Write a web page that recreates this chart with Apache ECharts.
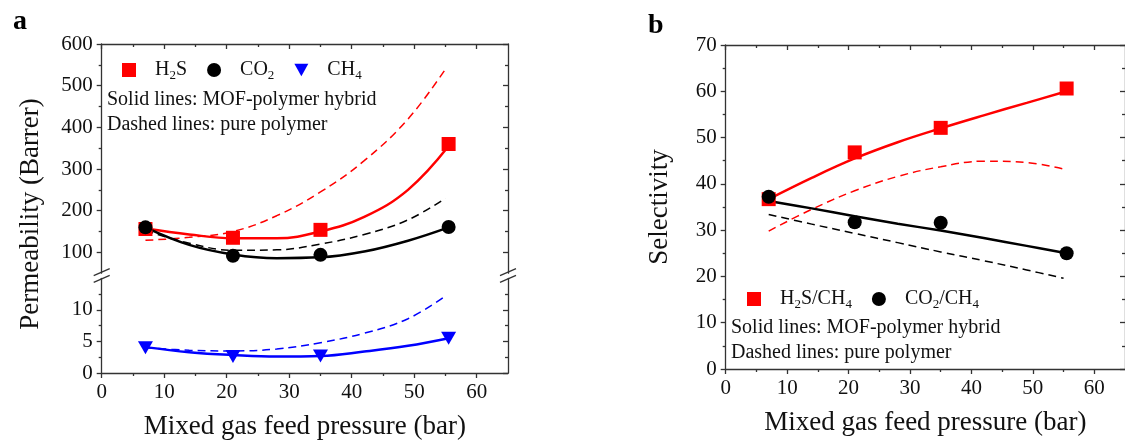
<!DOCTYPE html>
<html>
<head>
<meta charset="utf-8">
<script src="https://cdn.jsdelivr.net/npm/echarts@6/dist/echarts.min.js"></script>
<style>
html, body { margin: 0; padding: 0; background: #fff; }
#chart { width: 1125px; height: 441px; }
</style>
</head>
<body>
<div id="chart"></div>
<script>
// feed pressure of the measured points (bar)
var pressure = [7, 21, 35, 55.5];

// panel a: measured permeability (Barrer), MOF-polymer hybrid
var permH2S = [156, 135, 154, 360];
var permCO2 = [160, 92, 94, 161];
var permCH4 = [4.0, 2.6, 2.7, 5.5];

// fitted curves
var fitX = [7, 14, 21, 28, 35, 42, 49, 55.5];
var fitXDash = [7, 14, 21, 28, 35, 42, 49, 55];
var fitH2SHybrid = [157, 143, 134, 134, 150, 185, 250, 355];
var fitH2SPolymer = [129, 136, 150, 188, 245, 320, 420, 540];
var fitCO2Hybrid = [160, 118, 95, 86, 88, 102, 128, 160];
var fitCO2Polymer = [152, 122, 105, 106, 120, 143, 178, 230];
var fitCH4Hybrid = [4.1, 3.3, 2.85, 2.6, 2.7, 3.4, 4.3, 5.5];
var fitCH4Polymer = [4.0, 3.6, 3.5, 3.8, 4.8, 6.3, 8.6, 12.2];

// panel b: selectivity
var selH2S = [36.7, 46.8, 52.1, 60.6];
var selCO2 = [37.2, 31.7, 31.6, 25.0];
var fitSelH2SHybrid = [36.7, 41.3, 45.5, 49.0, 52.0, 54.8, 57.5, 60.0];
var fitSelH2SPolymer = [29.8, 34.5, 38.5, 41.6, 43.7, 44.9, 44.6, 43.2];
var fitSelCO2Hybrid = [36.3, 34.7, 33.0, 31.4, 29.9, 28.3, 26.6, 25.0];
var fitSelCO2Polymer = [33.4, 31.3, 29.3, 27.3, 25.3, 23.4, 21.4, 19.6];

// ticks
var xTicks = [0, 10, 20, 30, 40, 50, 60];
var xMinor = [5, 15, 25, 35, 45, 55];
var permTicksHigh = [100, 200, 300, 400, 500, 600];
var permMinorHigh = [150, 250, 350, 450, 550];
var permTicksLow = [0, 5, 10];
var permMinorLow = [2.5, 7.5, 12.5];
var selTicks = [0, 10, 20, 30, 40, 50, 60, 70];
var selMinor = [5, 15, 25, 35, 45, 55, 65];

var FONT = 'Liberation Serif';
var AXC = '#333';
var DOWN_TRIANGLE = 'path://M0,0L10,0L5,9Z';

// layout of the three plot boxes
var GA = { left: 101.7, width: 406.3 };
var GB = { left: 725.7, width: 406.3 };
var upTop = 44, upH = 229.2, lowTop = 278.3, lowH = 95;

function pairs(xs, ys) {
    return xs.map(function (x, i) { return [x, ys[i]]; });
}

// one axis, o.ticks / o.labels are custom value lists
function axis(o) {
    return {
        type: 'value',
        show: o.show !== false,
        gridIndex: o.grid,
        position: o.pos,
        min: o.min,
        max: o.max,
        name: o.name,
        nameLocation: 'middle',
        nameGap: o.nameGap,
        nameTextStyle: { fontFamily: FONT, fontSize: 27, color: '#111' },
        axisLine: { show: !!o.line, onZero: false, lineStyle: { color: AXC, width: 1.3 } },
        axisTick: {
            show: !!o.ticks, inside: !!o.inside, length: o.len || 5,
            customValues: o.ticks, lineStyle: { color: AXC, width: 1.3 }
        },
        axisLabel: {
            show: !!o.labels, customValues: o.labels, margin: 9,
            color: '#111', fontFamily: FONT, fontSize: 21
        },
        splitLine: { show: false },
        minorTick: { show: false }
    };
}

var xAxes = [
    // grid 0: a upper
    axis({ grid: 0, pos: 'bottom', min: 0, max: 65, show: false }),
    axis({ grid: 0, pos: 'top', min: 0, max: 65, line: true, ticks: xTicks, inside: true }),
    axis({ grid: 0, pos: 'top', min: 0, max: 65, ticks: xMinor, inside: true, len: 3 }),
    // grid 1: a lower
    axis({ grid: 1, pos: 'bottom', min: 0, max: 65, line: true, ticks: xTicks, labels: xTicks,
        name: 'Mixed gas feed pressure (bar)', nameGap: 40 }),
    axis({ grid: 1, pos: 'bottom', min: 0, max: 65, ticks: xMinor, len: 3 }),
    // grid 2: b
    axis({ grid: 2, pos: 'bottom', min: 0, max: 65, line: true, ticks: xTicks, labels: xTicks,
        name: 'Mixed gas feed pressure (bar)', nameGap: 40 }),
    axis({ grid: 2, pos: 'bottom', min: 0, max: 65, ticks: xMinor, len: 3 }),
    axis({ grid: 2, pos: 'top', min: 0, max: 65, line: true, ticks: xTicks, inside: true }),
    axis({ grid: 2, pos: 'top', min: 0, max: 65, ticks: xMinor, inside: true, len: 3 })
];

var yAxes = [
    axis({ grid: 0, pos: 'left', min: 50, max: 600, line: true, ticks: permTicksHigh, labels: permTicksHigh }),
    axis({ grid: 0, pos: 'left', min: 50, max: 600, ticks: permMinorHigh, len: 3 }),
    axis({ grid: 0, pos: 'right', min: 50, max: 600, line: true, ticks: permTicksHigh, inside: true }),
    axis({ grid: 0, pos: 'right', min: 50, max: 600, ticks: permMinorHigh, inside: true, len: 3 }),
    axis({ grid: 1, pos: 'left', min: 0, max: 15, line: true, ticks: permTicksLow, labels: permTicksLow }),
    axis({ grid: 1, pos: 'left', min: 0, max: 15, ticks: permMinorLow, len: 3 }),
    axis({ grid: 1, pos: 'right', min: 0, max: 15, line: true, ticks: permTicksLow, inside: true }),
    axis({ grid: 1, pos: 'right', min: 0, max: 15, ticks: permMinorLow, inside: true, len: 3 }),
    axis({ grid: 2, pos: 'left', min: 0, max: 70, line: true, ticks: selTicks, labels: selTicks,
        name: 'Selectivity', nameGap: 52 }),
    axis({ grid: 2, pos: 'left', min: 0, max: 70, ticks: selMinor, len: 3 }),
    axis({ grid: 2, pos: 'right', min: 0, max: 70, line: true, ticks: selTicks, inside: true }),
    axis({ grid: 2, pos: 'right', min: 0, max: 70, ticks: selMinor, inside: true, len: 3 })
];

function curve(name, xs, ys, color, dashed, xi, yi) {
    return {
        name: name, type: 'line', xAxisIndex: xi, yAxisIndex: yi,
        data: pairs(xs, ys), smooth: 0.4, symbol: 'none', silent: true, z: 2,
        lineStyle: dashed ? { color: color, width: 1.5, type: [8, 5] } : { color: color, width: 2.5 }
    };
}

function points(name, ys, color, symbol, size, xi, yi) {
    return {
        name: name, type: 'scatter', xAxisIndex: xi, yAxisIndex: yi,
        data: pairs(pressure, ys), symbol: symbol, symbolSize: size,
        itemStyle: { color: color, opacity: 1 }, z: 3
    };
}

var subs = {
    'H2S': 'H{s|2}S', 'CO2': 'CO{s|2}', 'CH4': 'CH{s|4}',
    'H2S/CH4': 'H{s|2}S/CH{s|4}', 'CO2/CH4': 'CO{s|2}/CH{s|4}'
};

function legend(names, left, top) {
    return {
        data: names, left: left, top: top, orient: 'horizontal',
        itemWidth: 14, itemHeight: 14, itemGap: 20, selectedMode: false,
        formatter: function (n) { return subs[n]; },
        textStyle: {
            fontFamily: FONT, fontSize: 20, color: '#111', padding: [0, 0, 0, 14],
            rich: { s: { fontFamily: FONT, fontSize: 13, color: '#111', padding: [12, 0, 0, 0] } }
        }
    };
}

function note(text, x, y) {
    return {
        type: 'text', x: x, y: y,
        style: { text: text, fontFamily: FONT, fontSize: 20, fill: '#111', textVerticalAlign: 'middle' }
    };
}

function breakMark(x, y) {
    return {
        type: 'line', shape: { x1: x - 8, y1: y + 3.5, x2: x + 8, y2: y - 3.5 },
        style: { stroke: AXC, lineWidth: 1.3 }
    };
}

var breakY1 = upTop + upH - 1, breakY2 = lowTop + 0.5;

var myChart = echarts.init(document.getElementById('chart'));
myChart.setOption({
    animation: false,
    backgroundColor: '#fff',
    grid: [
        { left: GA.left, width: GA.width, top: upTop, height: upH },
        { left: GA.left, width: GA.width, top: lowTop, height: lowH },
        { left: GB.left, width: GB.width, top: 45, height: 329 }
    ],
    xAxis: xAxes,
    yAxis: yAxes,
    legend: [
        legend(['H2S', 'CO2', 'CH4'], 117, 55),
        legend(['H2S/CH4', 'CO2/CH4'], 742, 284)
    ],
    graphic: [
        { type: 'text', x: 13, y: 22, style: { text: 'a', fontFamily: FONT, fontWeight: 'bold', fontSize: 28, fill: '#000', textVerticalAlign: 'middle' } },
        { type: 'text', x: 648, y: 26, style: { text: 'b', fontFamily: FONT, fontWeight: 'bold', fontSize: 28, fill: '#000', textVerticalAlign: 'middle' } },
        {
            type: 'text', x: 31, y: 214, rotation: Math.PI / 2,
            style: { text: 'Permeability (Barrer)', fontFamily: FONT, fontSize: 27, fill: '#111', textAlign: 'center', textVerticalAlign: 'middle' }
        },
        note('Solid lines: MOF-polymer hybrid', 107, 100),
        note('Dashed lines: pure polymer', 107, 125),
        note('Solid lines: MOF-polymer hybrid', 731, 328),
        note('Dashed lines: pure polymer', 731, 353),
        breakMark(GA.left, breakY1), breakMark(GA.left, breakY2),
        breakMark(GA.left + GA.width, breakY1), breakMark(GA.left + GA.width, breakY2)
    ],
    series: [
        curve('H2S hybrid', fitX, fitH2SHybrid, '#ff0000', false, 0, 0),
        curve('H2S polymer', fitXDash, fitH2SPolymer, '#ff0000', true, 0, 0),
        curve('CO2 hybrid', fitX, fitCO2Hybrid, '#000000', false, 0, 0),
        curve('CO2 polymer', fitXDash, fitCO2Polymer, '#000000', true, 0, 0),
        points('H2S', permH2S, '#ff0000', 'rect', 14, 0, 0),
        points('CO2', permCO2, '#000000', 'circle', 14, 0, 0),
        curve('CH4 hybrid', fitX, fitCH4Hybrid, '#0000ff', false, 3, 4),
        curve('CH4 polymer', fitXDash, fitCH4Polymer, '#0000ff', true, 3, 4),
        points('CH4', permCH4, '#0000ff', DOWN_TRIANGLE, [15, 13], 3, 4),

        curve('H2S/CH4 hybrid', fitX, fitSelH2SHybrid, '#ff0000', false, 5, 8),
        curve('H2S/CH4 polymer', fitXDash, fitSelH2SPolymer, '#ff0000', true, 5, 8),
        curve('CO2/CH4 hybrid', fitX, fitSelCO2Hybrid, '#000000', false, 5, 8),
        curve('CO2/CH4 polymer', fitXDash, fitSelCO2Polymer, '#000000', true, 5, 8),
        points('H2S/CH4', selH2S, '#ff0000', 'rect', 14, 5, 8),
        points('CO2/CH4', selCO2, '#000000', 'circle', 14, 5, 8)
    ]
});
</script>
</body>
</html>
